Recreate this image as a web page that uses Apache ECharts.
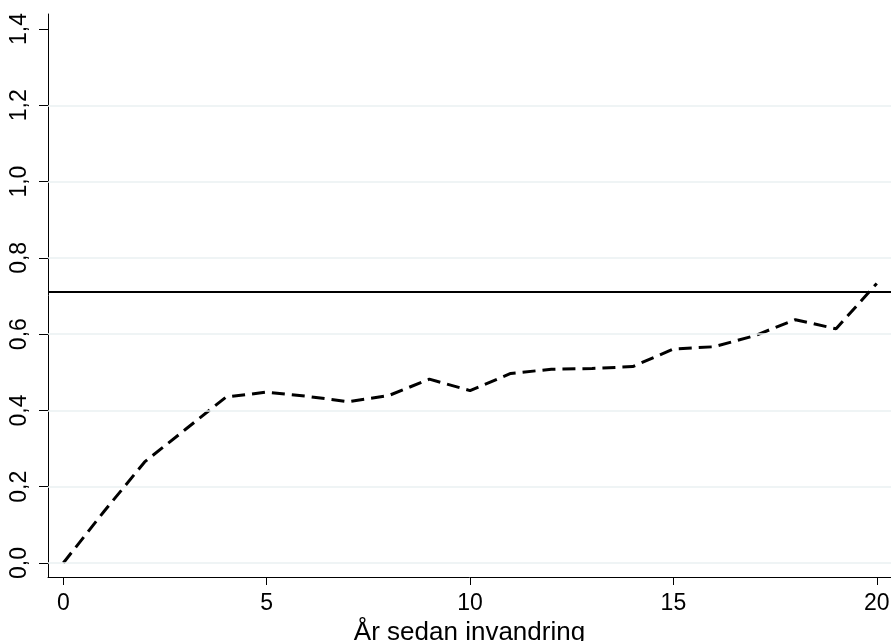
<!DOCTYPE html>
<html>
<head>
<meta charset="utf-8">
<script src="https://cdn.jsdelivr.net/npm/echarts@6/dist/echarts.min.js"></script>
<style>html,body{margin:0;padding:0;background:#fff}#c{width:891px;height:641px}</style>
</head>
<body>
<div id="c"></div>
<script>
const years = [0,1,2,3,4,5,6,7,8,9,10,11,12,13,14,15,16,17,18,19,20];
const values = [0.0,0.135,0.265,0.35,0.435,0.448,0.437,0.423,0.439,0.482,0.452,0.497,0.508,0.510,0.515,0.561,0.567,0.596,0.638,0.614,0.733];
const refLine = 0.709;
const xTicks = [0,5,10,15,20];
const yTicks = [0,0.2,0.4,0.6,0.8,1.0,1.2,1.4];
const gridValues = [0,0.2,0.4,0.6,0.8,1.0,1.2];
const xTitle = 'År sedan invandring';

const font = '"Liberation Sans", Arial, sans-serif';
const chart = echarts.init(document.getElementById('c'));
chart.setOption({
  animation: false,
  grid: {left: 48, right: 0, top: 14, bottom: 64, containLabel: false, outerBoundsMode: 'none'},
  xAxis: {
    type: 'value', min: -0.376, max: 20.35,
    name: xTitle, nameLocation: 'middle', nameGap: 40,
    nameTextStyle: {fontFamily: font, fontSize: 26, color: '#000'},
    axisLine: {show: true, onZero: false, lineStyle: {color: '#000', width: 1}},
    axisTick: {show: true, length: 8, customValues: xTicks, lineStyle: {color: '#000', width: 1}},
    axisLabel: {customValues: xTicks, fontFamily: font, fontSize: 23, color: '#000', margin: 15},
    splitLine: {show: false}
  },
  yAxis: {
    type: 'value', min: -0.0367, max: 1.4394,
    axisLine: {show: true, onZero: false, lineStyle: {color: '#000', width: 1}},
    axisTick: {show: true, length: 9, customValues: yTicks, lineStyle: {color: '#000', width: 1}},
    axisLabel: {customValues: yTicks, fontFamily: font, fontSize: 23, color: '#000', margin: 17, rotate: 90,
      align: 'center', verticalAlign: 'bottom',
      formatter: v => v.toFixed(1).replace('.', ',')},
    splitLine: {show: false}
  },
  series: [
    {
      type: 'line', data: [], silent: true,
      markLine: {
        silent: true, symbol: 'none', label: {show: false},
        lineStyle: {color: '#eaf0f2', width: 1.5, type: 'solid'},
        data: gridValues.map(v => ({yAxis: v}))
      }
    },
    {
      type: 'line',
      data: years.map((x, i) => [x, values[i]]),
      showSymbol: false, symbol: 'none',
      lineStyle: {color: '#000', width: 3, type: [13, 7], cap: 'butt'},
      markLine: {
        silent: true, symbol: 'none', label: {show: false},
        lineStyle: {color: '#000', width: 2, type: 'solid'},
        data: [{yAxis: refLine}]
      }
    }
  ]
});
</script>
</body>
</html>
